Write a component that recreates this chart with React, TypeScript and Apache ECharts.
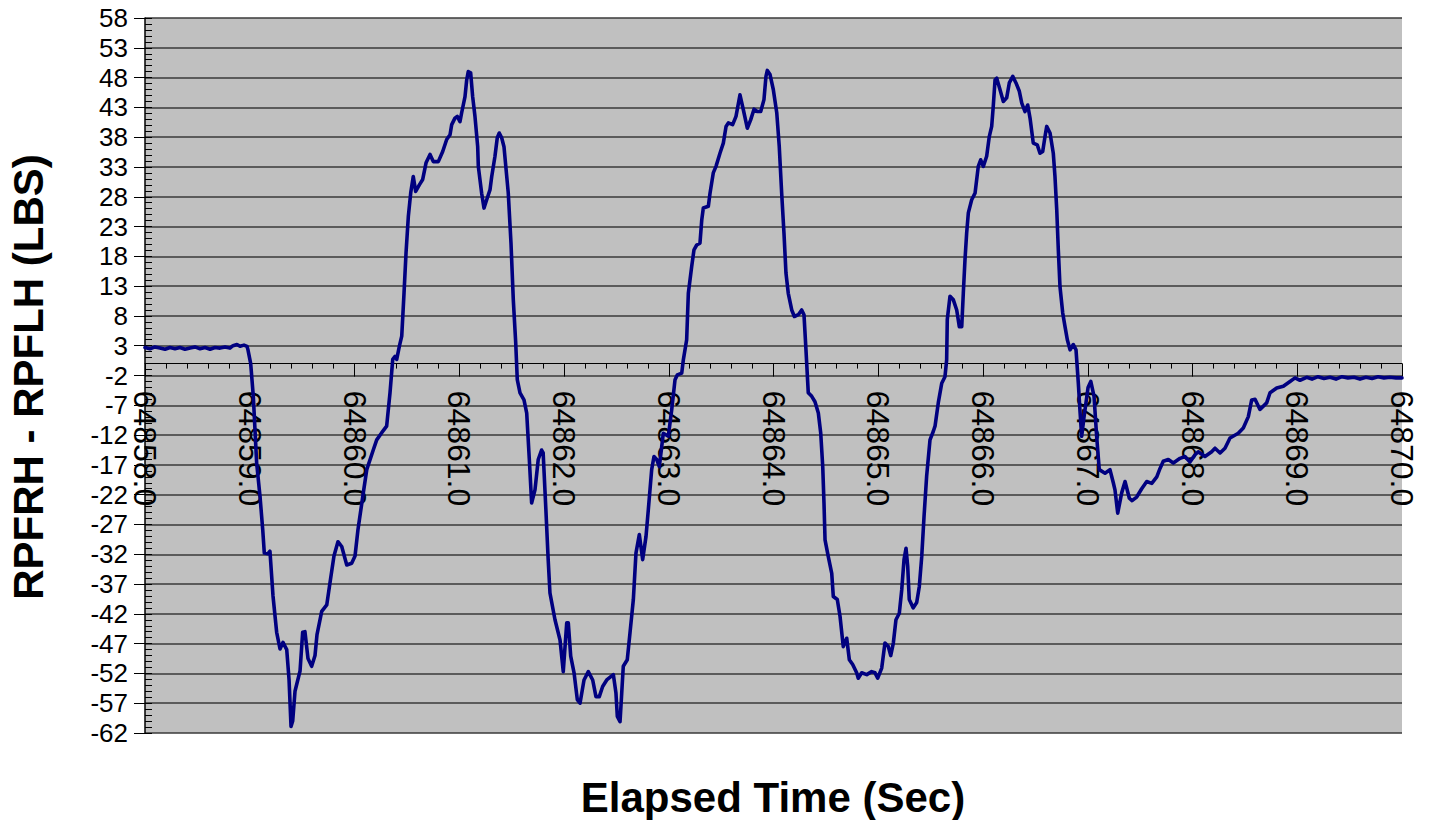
import React, { useEffect, useRef } from "react";
import * as echarts from "echarts";

const elapsedTime = [
  64858.000, 64858.048, 64858.095, 64858.143, 64858.191, 64858.239, 64858.286, 64858.334, 64858.382, 64858.430,
  64858.477, 64858.525, 64858.573, 64858.621, 64858.668, 64858.716, 64858.764, 64858.811, 64858.840, 64858.878,
  64858.907, 64858.945, 64858.974, 64858.983,
  64859.009, 64859.034, 64859.066, 64859.098, 64859.124, 64859.139, 64859.174, 64859.193, 64859.222, 64859.257,
  64859.289, 64859.317, 64859.353, 64859.375, 64859.394, 64859.410, 64859.432, 64859.480, 64859.505, 64859.527,
  64859.556, 64859.591, 64859.623, 64859.642, 64859.687, 64859.735, 64859.766, 64859.804, 64859.842, 64859.878,
  64859.926, 64859.973,
  64860.005, 64860.033, 64860.084, 64860.117, 64860.179, 64860.212, 64860.260, 64860.307, 64860.339, 64860.365,
  64860.387, 64860.403, 64860.428, 64860.451, 64860.473, 64860.492, 64860.514, 64860.537, 64860.561, 64860.584,
  64860.619, 64860.651, 64860.683, 64860.721, 64860.752, 64860.800, 64860.842, 64860.880, 64860.912, 64860.928,
  64860.959, 64860.981,
  64861.007, 64861.023, 64861.055, 64861.071, 64861.086, 64861.109, 64861.128, 64861.150, 64861.176, 64861.182,
  64861.214, 64861.236, 64861.262, 64861.294, 64861.310, 64861.341, 64861.363, 64861.382, 64861.405, 64861.427,
  64861.468, 64861.494, 64861.516, 64861.539, 64861.554, 64861.580, 64861.618, 64861.644, 64861.669, 64861.691,
  64861.723, 64861.754, 64861.786, 64861.801, 64861.827, 64861.849, 64861.866, 64861.914, 64861.962, 64861.993,
  64862.026, 64862.041, 64862.064, 64862.096, 64862.127, 64862.153, 64862.191, 64862.232, 64862.274, 64862.305,
  64862.337, 64862.369, 64862.408, 64862.471, 64862.496, 64862.509, 64862.535, 64862.551, 64862.566, 64862.604,
  64862.630, 64862.662, 64862.687, 64862.719, 64862.751, 64862.783, 64862.805, 64862.837, 64862.859, 64862.885,
  64862.910, 64862.948, 64862.996,
  64863.028, 64863.060, 64863.082, 64863.124, 64863.139, 64863.171, 64863.187, 64863.219, 64863.241, 64863.267,
  64863.298, 64863.315, 64863.330, 64863.378, 64863.394, 64863.425, 64863.451, 64863.489, 64863.521, 64863.547,
  64863.569, 64863.610, 64863.642, 64863.680, 64863.712, 64863.750, 64863.782, 64863.814, 64863.845, 64863.878,
  64863.909, 64863.928, 64863.941, 64863.967, 64863.998,
  64864.031, 64864.055, 64864.078, 64864.100, 64864.119, 64864.141, 64864.174, 64864.199, 64864.237, 64864.269,
  64864.291, 64864.310, 64864.332, 64864.365, 64864.396, 64864.428, 64864.451, 64864.470, 64864.482, 64864.492,
  64864.523, 64864.556, 64864.571, 64864.609, 64864.635, 64864.666, 64864.699, 64864.724, 64864.756, 64864.794,
  64864.809, 64864.842, 64864.890, 64864.937, 64864.969, 64864.995,
  64865.033, 64865.064, 64865.096, 64865.119, 64865.144, 64865.169, 64865.201, 64865.224, 64865.246, 64865.265,
  64865.281, 64865.296, 64865.334, 64865.367, 64865.392, 64865.415, 64865.437, 64865.462, 64865.494, 64865.525,
  64865.542, 64865.573, 64865.606, 64865.637, 64865.653, 64865.659, 64865.685, 64865.717, 64865.749, 64865.774,
  64865.797, 64865.812, 64865.828, 64865.844, 64865.860, 64865.892, 64865.924, 64865.955, 64865.978,
  64866.003, 64866.035, 64866.060, 64866.083, 64866.098, 64866.115, 64866.131, 64866.162, 64866.194, 64866.226,
  64866.251, 64866.284, 64866.315, 64866.347, 64866.370, 64866.401, 64866.427, 64866.449, 64866.480, 64866.518,
  64866.544, 64866.570, 64866.592, 64866.608, 64866.640, 64866.671, 64866.687, 64866.704, 64866.719, 64866.735,
  64866.761, 64866.783, 64866.805, 64866.831, 64866.862, 64866.888, 64866.910, 64866.926, 64866.942, 64866.964,
  64867.003, 64867.029, 64867.060, 64867.085, 64867.110, 64867.165, 64867.212, 64867.244, 64867.260, 64867.286,
  64867.324, 64867.356, 64867.397, 64867.423, 64867.467, 64867.515, 64867.563, 64867.611, 64867.659, 64867.690,
  64867.721, 64867.769, 64867.817, 64867.881, 64867.928, 64867.976,
  64868.024, 64868.055, 64868.119, 64868.183, 64868.215, 64868.263, 64868.310, 64868.358, 64868.437, 64868.485,
  64868.533, 64868.565, 64868.597, 64868.644, 64868.708, 64868.740, 64868.804, 64868.867, 64868.931, 64868.979,
  64869.026, 64869.090, 64869.141, 64869.198, 64869.255, 64869.313, 64869.370, 64869.427, 64869.484, 64869.542,
  64869.599, 64869.656, 64869.714, 64869.771, 64869.828, 64869.885, 64869.943, 64870.000,
];

const rpfrhMinusRpflh = [
  2.7, 2.5, 2.8, 2.6, 2.4, 2.7, 2.5, 2.7, 2.4, 2.6,
  2.8, 2.5, 2.7, 2.4, 2.7, 2.6, 2.8, 2.6, 3.0, 3.2,
  2.9, 3.1, 2.9, 2.3,
  0.0, -5.5, -16.7, -22.3, -27.9, -31.8, -31.9, -31.5, -39.0, -45.1,
  -47.9, -46.8, -48.0, -53.0, -60.9, -60.0, -55.0, -51.6, -45.1, -45.0,
  -49.5, -50.8, -49.0, -45.5, -41.6, -40.5, -36.8, -32.3, -29.9, -30.7,
  -33.8, -33.5,
  -32.3, -27.9, -21.7, -17.8, -14.5, -12.8, -11.6, -10.5, -4.9, 0.7,
  1.2, 0.7, 2.9, 4.6, 11.9, 18.6, 24.7, 28.7, 31.4, 28.9,
  30.0, 30.9, 33.7, 35.1, 33.9, 33.9, 35.6, 37.6, 38.4, 40.1,
  41.2, 41.5,
  40.6, 42.1, 44.8, 47.6, 49.0, 48.8, 44.8, 41.5, 36.4, 33.1,
  28.6, 26.1, 27.5, 29.2, 31.4, 34.8, 37.9, 38.7, 37.9, 36.4,
  28.6, 20.2, 10.7, 3.5, -2.7, -4.9, -6.1, -8.3, -16.1, -23.4,
  -21.2, -16.1, -14.5, -15.0, -24.5, -32.9, -38.5, -43.0, -46.4, -51.7,
  -43.5, -43.5, -49.1, -51.9, -56.4, -57.0, -53.1, -51.7, -53.1, -55.9,
  -55.9, -54.2, -53.1, -52.2, -55.3, -59.2, -60.1, -55.3, -50.8, -49.7,
  -45.2, -39.6, -31.8, -28.7, -32.9, -29.0, -24.5, -17.8, -15.6, -16.1,
  -17.3, -11.7, -12.2,
  -7.8, -2.7, -1.9, -1.6, 0.6, 4.0, 11.8, 16.3, 19.1, 19.9,
  20.2, 24.1, 26.1, 26.4, 28.6, 32.0, 33.1, 35.3, 37.0, 39.8,
  40.4, 40.1, 41.5, 45.1, 42.6, 39.5, 40.9, 42.7, 42.3, 42.3,
  44.3, 48.2, 49.2, 48.5, 46.0,
  42.1, 36.4, 28.6, 21.9, 15.2, 11.8, 9.0, 7.9, 8.2, 9.0,
  8.2, 2.3, -4.9, -5.5, -6.4, -8.3, -11.7, -17.3, -23.4, -29.6,
  -32.4, -35.2, -39.1, -39.6, -42.4, -47.5, -46.1, -49.7, -50.5, -51.9,
  -52.8, -51.9, -52.2, -51.7, -51.9, -52.8,
  -51.1, -46.9, -47.5, -49.0, -46.9, -43.0, -41.9, -38.0, -32.9, -31.0,
  -34.0, -39.6, -41.0, -40.1, -37.4, -32.4, -25.7, -18.9, -12.8, -11.4,
  -10.5, -6.6, -3.3, -2.2, 0.6, 7.4, 11.3, 10.7, 9.0, 6.2,
  6.2, 11.8, 17.4, 21.9, 25.3, 27.5, 28.6, 33.1, 34.2,
  33.1, 34.8, 38.1, 39.8, 43.2, 47.6, 47.9, 46.0, 44.0, 44.6,
  47.1, 48.2, 47.1, 45.7, 43.7, 42.3, 43.4, 41.2, 37.0, 36.7,
  35.3, 35.6, 38.1, 39.8, 38.7, 35.3, 31.4, 25.8, 19.1, 12.9,
  8.5, 6.2, 4.0, 2.3, 3.2, 2.3, -3.3, -8.0, -12.2, -9.0,
  -4.0, -3.0, -5.5, -12.2, -17.8, -18.4, -17.8, -20.0, -21.2, -25.1,
  -21.7, -19.8, -22.6, -23.0, -22.4, -21.0, -19.8, -20.1, -19.0, -17.6,
  -16.4, -16.1, -16.7, -15.9, -15.6, -16.5,
  -15.3, -14.8, -15.6, -14.8, -14.2, -15.0, -14.2, -12.5, -11.7, -10.8,
  -8.9, -6.1, -6.0, -7.7, -6.6, -4.9, -4.1, -3.8, -3.0, -2.4,
  -2.8, -2.3, -2.6, -2.2, -2.5, -2.3, -2.6, -2.2, -2.4, -2.3,
  -2.6, -2.3, -2.5, -2.2, -2.4, -2.3, -2.4, -2.4,
];

const yTickValues = [
  -62, -57, -52, -47, -42, -37, -32, -27, -22, -17, -12, -7, -2,
  3, 8, 13, 18, 23, 28, 33, 38, 43, 48, 53, 58,
];

const xMin = 64858;
const xMax = 64870;
const yMin = -62;
const yMax = 58;

const yAxisTitle = "RPFRH - RPFLH (LBS)";
const xAxisTitle = "Elapsed Time (Sec)";

const FONT = '"Liberation Sans", Arial, Helvetica, sans-serif';

const GRID_TOP = 18;
const GRID_BOTTOM = 87;
const CHART_H = 820;

export default function App() {
  const ref = useRef<HTMLDivElement>(null);

  useEffect(() => {
    if (!ref.current) return;
    const chart = echarts.init(ref.current, null, { renderer: "svg" });
    const seriesData = elapsedTime.map((t, i) => [t, rpfrhMinusRpflh[i]]);

    // place the x axis on the zero line of the value axis
    const plotH = CHART_H - GRID_TOP - GRID_BOTTOM;
    const zeroOffset = -plotH * (0 - yMin) / (yMax - yMin);

    chart.setOption({
      animation: false,
      backgroundColor: "#ffffff",
      textStyle: { fontFamily: FONT },
      grid: {
        left: 145,
        right: 27,
        top: GRID_TOP,
        bottom: GRID_BOTTOM,
        show: true,
        backgroundColor: "#C0C0C0",
        borderWidth: 0,
        containLabel: false,
        outerBoundsMode: "none",
      },
      xAxis: {
        type: "value",
        min: xMin,
        max: xMax,
        interval: 1,
        position: "bottom",
        offset: zeroOffset,
        axisLine: { show: true, onZero: false, lineStyle: { color: "#000000", width: 1 } },
        axisTick: { show: true, length: 13, lineStyle: { color: "#000000", width: 1 } },
        minorTick: { show: true, splitNumber: 5, length: 5, lineStyle: { color: "#000000", width: 1 } },
        axisLabel: {
          rotate: -90,
          margin: 27,
          fontSize: 32,
          fontFamily: FONT,
          color: "#000000",
          showMinLabel: true,
          showMaxLabel: true,
          hideOverlap: false,
          formatter: (v: number) => v.toFixed(1),
        },
        splitLine: { show: false },
        minorSplitLine: { show: false },
      },
      yAxis: [
        {
          type: "value",
          min: yMin,
          max: yMax,
          position: "left",
          axisLine: { show: true, onZero: false, lineStyle: { color: "#000000", width: 1.5 } },
          axisTick: {
            show: true,
            customValues: yTickValues,
            length: 11,
            lineStyle: { color: "#000000", width: 1 },
          },
          axisLabel: {
            customValues: yTickValues,
            fontSize: 26,
            fontFamily: FONT,
            margin: 17,
            color: "#000000",
            showMinLabel: true,
            showMaxLabel: true,
            hideOverlap: false,
          },
          splitLine: { show: true, lineStyle: { color: "#3a3a3a", width: 1.5 } },
        },
        {
          type: "value",
          min: yMin,
          max: yMax,
          interval: 1,
          position: "left",
          offset: 0,
          axisLine: { show: false, onZero: false },
          axisTick: { show: true, inside: true, length: 7, lineStyle: { color: "#000000", width: 1 } },
          axisLabel: { show: false },
          splitLine: { show: false },
        },
      ],
      series: [
        {
          type: "line",
          xAxisIndex: 0,
          yAxisIndex: 0,
          data: seriesData,
          showSymbol: false,
          symbol: "none",
          lineStyle: { color: "#000080", width: 3.6, join: "round", cap: "round" },
          itemStyle: { color: "#000080" },
          z: 5,
        },
      ],
      graphic: [
        {
          type: "text",
          x: 28,
          y: 377,
          rotation: Math.PI / 2,
          style: {
            text: yAxisTitle,
            font: `bold 42px ${FONT}`,
            fill: "#000000",
            align: "center",
            verticalAlign: "middle",
          },
        },
        {
          type: "text",
          x: 773,
          y: 797,
          style: {
            text: xAxisTitle,
            font: `bold 42px ${FONT}`,
            fill: "#000000",
            align: "center",
            verticalAlign: "middle",
          },
        },
      ],
    });

    return () => {
      chart.dispose();
    };
  }, []);

  return (
    <div
      ref={ref}
      style={{ position: "fixed", left: 0, top: 0, width: "1429px", height: "820px" }}
    />
  );
}
